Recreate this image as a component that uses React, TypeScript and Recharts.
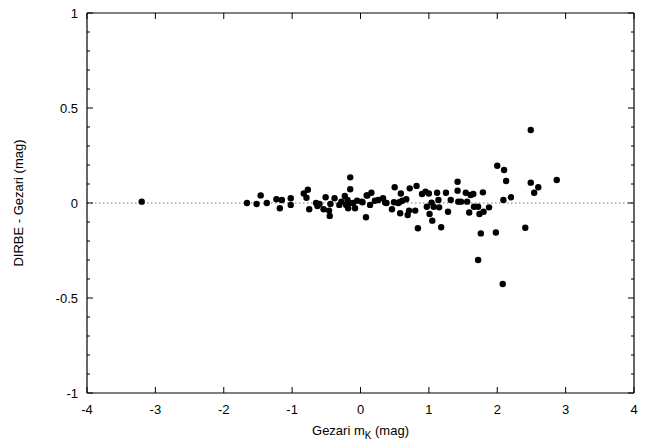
import React from "react";
import { ScatterChart, Scatter, XAxis, YAxis, ReferenceLine, Label } from "recharts";

const magK: number[] = [
  -3.2, -1.66, -1.52, -1.46, -1.37, -1.23, -1.15, -1.18, -1.02, -1.02,
  -0.83, -0.77, -0.79, -0.75, -0.65, -0.63, -0.6, -0.54, -0.51, -0.46,
  -0.45, -0.44, -0.38, -0.31, -0.28, -0.23, -0.19, -0.15, -0.15, -0.21,
  -0.16, -0.18, -0.11, -0.08, -0.05, 0.02, 0.09, 0.08, 0.03, 0.1,
  0.16, 0.14, 0.21, 0.26, 0.33, 0.36, 0.38, 0.46, 0.5, 0.49,
  0.55, 0.57, 0.59, 0.58, 0.61, 0.67, 0.69, 0.71, 0.72, 0.8,
  0.82, 0.84, 0.9, 0.95, 0.97, 1.0, 1.01, 1.04, 1.05, 1.07,
  1.12, 1.14, 1.15, 1.18, 1.25, 1.28, 1.32, 1.42, 1.42, 1.43,
  1.47, 1.54, 1.56, 1.59, 1.61, 1.65, 1.66, 1.72, 1.74, 1.79,
  1.8, 1.88, 1.72, 1.76, 1.98, 2.0, 2.1, 2.13, 2.09, 2.2,
  2.41, 2.08, 2.49, 2.49, 2.54, 2.6, 2.87,
];
const diff: number[] = [
  0.007, 0, -0.005, 0.04, 0, 0.02, 0.016, -0.028, 0.025, -0.01,
  0.05, 0.07, 0.028, -0.033, 0, -0.016, -0.005, -0.033, 0.03, -0.04,
  -0.068, -0.005, 0.025, -0.01, 0.007, 0.037, 0.016, 0.072, 0.135, -0.01,
  0, -0.028, 0, -0.028, 0.012, 0.007, 0.04, -0.075, 0.004, 0.04,
  0.054, -0.01, 0.012, 0.016, 0.025, 0.002, 0, -0.033, 0.083, 0.004,
  0, 0.004, 0.05, -0.054, 0.012, 0.02, -0.063, -0.04, 0.077, -0.04,
  0.09, -0.133, 0.047, 0.06, -0.02, 0.05, -0.058, 0.002, -0.093, -0.02,
  0.054, 0.016, -0.023, -0.128, 0.054, -0.046, 0.016, 0.112, 0.065, 0.007,
  0.007, 0.054, 0.007, -0.05, 0.042, 0.047, -0.02, -0.02, -0.058, 0.056,
  -0.046, -0.023, -0.3, -0.16, -0.155, 0.196, 0.174, 0.116, 0.016, 0.03,
  -0.13, -0.426, 0.384, 0.107, 0.054, 0.083, 0.121,
];

const xTicks = [-4, -3, -2, -1, 0, 1, 2, 3, 4];
const yTicks = [-1, -0.9, -0.8, -0.7, -0.6, -0.5, -0.4, -0.3, -0.2, -0.1, 0, 0.1, 0.2, 0.3, 0.4, 0.5, 0.6, 0.7, 0.8, 0.9, 1];
const yLabelled = [-1, -0.5, 0, 0.5, 1];

const data = magK.map((x, i) => ({ x, y: diff[i] }));

const FONT = "'Liberation Sans', Arial, sans-serif";
const isMajorY = (v: number) => yLabelled.some((t) => Math.abs(t - v) < 1e-6);

const LeftTick = (p: any) => {
  const v = p.payload.value;
  const major = isMajorY(v);
  return (
    <g>
      <line x1={p.x} y1={p.y} x2={p.x + (major ? 6 : 3)} y2={p.y} stroke="#000" strokeWidth={1} />
      {major && (
        <text x={p.x - 9} y={p.y} dy="0.36em" textAnchor="end" fontSize={13} fontFamily={FONT} fill="#000">
          {String(v)}
        </text>
      )}
    </g>
  );
};
const RightTick = (p: any) => {
  const major = isMajorY(p.payload.value);
  return <line x1={p.x} y1={p.y} x2={p.x - (major ? 6 : 3)} y2={p.y} stroke="#000" strokeWidth={1} />;
};
const BottomTick = (p: any) => (
  <g>
    <line x1={p.x} y1={p.y} x2={p.x} y2={p.y - 6} stroke="#000" strokeWidth={1} />
    <text x={p.x} y={p.y + 21} textAnchor="middle" fontSize={13} fontFamily={FONT} fill="#000">
      {String(p.payload.value)}
    </text>
  </g>
);
const TopTick = (p: any) => <line x1={p.x} y1={p.y} x2={p.x} y2={p.y + 6} stroke="#000" strokeWidth={1} />;

export default function App() {
  return (
    <div style={{ position: "absolute", left: 0, top: 0, width: 647, height: 443, background: "#fff" }}>
      <ScatterChart width={647} height={443} margin={{ top: 12, right: 12, bottom: 0, left: 27 }}>
        <XAxis
          xAxisId="b"
          type="number"
          dataKey="x"
          domain={[-4, 4]}
          ticks={xTicks}
          interval={0}
          allowDataOverflow
          height={50}
          tickSize={0}
          tickMargin={0}
          tickLine={false}
          tick={<BottomTick />}
          axisLine={{ stroke: "#000", strokeWidth: 1.2 }}
        >
          <Label
            content={(lp: any) => {
              const vb = lp.viewBox;
              return (
                <text x={vb.x + vb.width / 2} y={vb.y + 42} textAnchor="middle" fontSize={13} fontFamily={FONT} fill="#000">
                  Gezari m
                  <tspan fontSize={10} dy={4}>K</tspan>
                  <tspan dy={-4}> (mag)</tspan>
                </text>
              );
            }}
          />
        </XAxis>
        <XAxis
          xAxisId="t"
          orientation="top"
          type="number"
          dataKey="x"
          domain={[-4, 4]}
          ticks={xTicks}
          interval={0}
          allowDataOverflow
          height={1}
          tickSize={0}
          tickMargin={0}
          tickLine={false}
          tick={<TopTick />}
          axisLine={{ stroke: "#000", strokeWidth: 1.2 }}
        />
        <YAxis
          yAxisId="l"
          type="number"
          dataKey="y"
          domain={[-1, 1]}
          ticks={yTicks}
          interval={0}
          allowDataOverflow
          width={60}
          tickSize={0}
          tickMargin={0}
          tickLine={false}
          tick={<LeftTick />}
          axisLine={{ stroke: "#000", strokeWidth: 1.2 }}
        >
          <Label
            content={(lp: any) => {
              const vb = lp.viewBox;
              const cx = vb.x - 9;
              const cy = vb.y + vb.height / 2;
              return (
                <text
                  x={cx}
                  y={cy}
                  transform={`rotate(-90 ${cx} ${cy})`}
                  textAnchor="middle"
                  dominantBaseline="central"
                  fontSize={13}
                  fontFamily={FONT}
                  fill="#000"
                >
                  DIRBE - Gezari (mag)
                </text>
              );
            }}
          />
        </YAxis>
        <YAxis
          yAxisId="r"
          orientation="right"
          type="number"
          dataKey="y"
          domain={[-1, 1]}
          ticks={yTicks}
          interval={0}
          allowDataOverflow
          width={1}
          tickSize={0}
          tickMargin={0}
          tickLine={false}
          tick={<RightTick />}
          axisLine={{ stroke: "#000", strokeWidth: 1.2 }}
        />
        <ReferenceLine xAxisId="b" yAxisId="l" y={0} stroke="#777" strokeWidth={1.2} strokeDasharray="1.5 2.5" />
        <Scatter
          xAxisId="b"
          yAxisId="l"
          data={data}
          fill="#000"
          isAnimationActive={false}
          shape={(sp: any) => <circle cx={sp.cx} cy={sp.cy} r={3.2} fill="#000" />}
        />
      </ScatterChart>
    </div>
  );
}
